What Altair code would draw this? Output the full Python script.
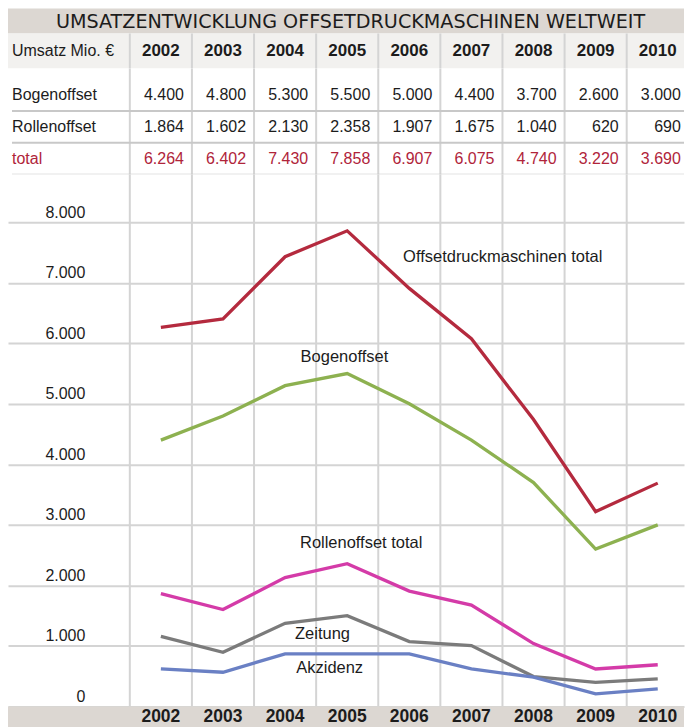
import altair as alt
import pandas as pd

# ---------------- data ----------------
TITLE = "UMSATZENTWICKLUNG OFFSETDRUCKMASCHINEN WELTWEIT"
HEADER_LABEL = "Umsatz Mio. €"
years = [2002, 2003, 2004, 2005, 2006, 2007, 2008, 2009, 2010]
row_names = ["Bogenoffset", "Rollenoffset", "total"]
bogenoffset = [4400, 4800, 5300, 5500, 5000, 4400, 3700, 2600, 3000]
rollenoffset = [1864, 1602, 2130, 2358, 1907, 1675, 1040, 620, 690]
total = [6264, 6402, 7430, 7858, 6907, 6075, 4740, 3220, 3690]
zeitung = [1160, 896, 1375, 1500, 1073, 1007, 495, 400, 457]
akzidenz = [622, 566, 870, 870, 870, 622, 484, 209, 292]
y_ticks = [0, 1000, 2000, 3000, 4000, 5000, 6000, 7000, 8000]

series_names = ["Offsetdruckmaschinen total", "Bogenoffset", "Rollenoffset total", "Zeitung", "Akzidenz"]
series_values = [total, bogenoffset, rollenoffset, zeitung, akzidenz]
series_colors = ["#b42a3e", "#8db150", "#d43ba8", "#7b7b7b", "#6a80c4"]

# annotation anchors (column index, value)
label_x = [3.9, 2.25, 2.24, 2.16, 2.18]
label_y = [7420, 5775, 2705, 1200, 640]

# ---------------- styling ----------------
W = 677
COLW = 62.2
X0 = 153.1          # pixel centre of the first year column
FONT = "Liberation Sans"
DARK = "#1c1c1c"
RED = "#b0243a"
GRID = "#d4d4d4"
SEP = "#c8c8c8"
BAND = "#dcd7d2"
HEAD = "#f2f1ef"
XS = alt.Scale(domain=[-X0 / COLW, (W - X0) / COLW], nice=False, zero=False)
PLOT_H = 533
BAND_H = 24

def de(v):
    return f"{v:,}".replace(",", ".")

cols = pd.DataFrame({"i": list(range(len(years))), "year": [str(y) for y in years]})
seps = pd.DataFrame({"s": [k - 0.5 for k in range(len(years))]})


def vrules(h):
    return alt.Chart(seps).mark_rule(color=GRID, strokeWidth=2).encode(
        x=alt.X("s:Q", scale=XS, axis=None), y=alt.value(0), y2=alt.value(h)
    )


# ---------------- title ----------------
title = alt.Chart(pd.DataFrame({"t": [TITLE]})).mark_text(
    font="DejaVu Sans", fontSize=19.2, color=DARK, baseline="middle"
).encode(x=alt.value(343), y=alt.value(13), text="t:N").properties(
    width=W, height=25, view=alt.ViewBackground(fill=BAND, stroke=None)
)

# ---------------- header row ----------------
hdr_label = alt.Chart(pd.DataFrame({"t": [HEADER_LABEL]})).mark_text(
    align="left", baseline="middle", font=FONT, fontSize=16, color=DARK
).encode(x=alt.value(4), y=alt.value(18), text="t:N")
hdr_years = alt.Chart(cols).mark_text(
    baseline="middle", font=FONT, fontSize=17, fontWeight="bold", color=DARK
).encode(x=alt.X("i:Q", scale=XS, axis=None), y=alt.value(18), text="year:N")
header = alt.layer(vrules(35), hdr_label, hdr_years).properties(
    width=W, height=35, view=alt.ViewBackground(fill=HEAD, stroke=None)
)

# ---------------- table body ----------------
rows_vals = [bogenoffset, rollenoffset, total]
recs = []
for r, vals in enumerate(rows_vals):
    for i, v in enumerate(vals):
        recs.append({"r": r, "i": i, "txt": de(v)})
cells = pd.DataFrame(recs)
rowlab = pd.DataFrame({"r": list(range(3)), "name": row_names})
hlines = pd.DataFrame({"p": [r + 0.5 for r in range(3)]})
YS_T = alt.Scale(domain=[-0.828, 2.484], reverse=True, nice=False, zero=False)
is_total = alt.datum.r == 2

body_lab = alt.Chart(rowlab).mark_text(
    align="left", baseline="middle", font=FONT, fontSize=16
).encode(
    x=alt.value(4),
    y=alt.Y("r:Q", scale=YS_T, axis=None),
    text="name:N",
    color=alt.condition(is_total, alt.value(RED), alt.value(DARK)),
)
body_vals = alt.Chart(cells).mark_text(
    align="right", baseline="middle", font=FONT, fontSize=16, dx=COLW / 2 - 8
).encode(
    x=alt.X("i:Q", scale=XS, axis=None),
    y=alt.Y("r:Q", scale=YS_T, axis=None),
    text="txt:N",
    color=alt.condition(is_total, alt.value(RED), alt.value(DARK)),
)
body_lines = alt.Chart(hlines).mark_rule(color=SEP, strokeWidth=2).encode(
    y=alt.Y("p:Q", scale=YS_T, axis=None), x=alt.value(4), x2=alt.value(W)
)
body = alt.layer(vrules(106), body_lines, body_lab, body_vals).properties(
    width=W, height=106, view=alt.ViewBackground(fill="white", stroke=None)
)

# ---------------- line chart ----------------
lrec = []
for name, vals in zip(series_names, series_values):
    for i, v in enumerate(vals):
        lrec.append({"series": name, "i": i, "v": v})
ldf = pd.DataFrame(lrec)
# 8000 sits 48px below the top of the plot panel
YS = alt.Scale(domain=[0, 8000 * PLOT_H / (PLOT_H - 48)], nice=False, zero=True)

lines = alt.Chart(ldf).mark_line(strokeWidth=3.3, strokeJoin="miter").encode(
    x=alt.X("i:Q", scale=XS, axis=None),
    y=alt.Y(
        "v:Q",
        scale=YS,
        axis=alt.Axis(
            values=y_ticks,
            title=None,
            grid=True,
            gridColor=GRID,
            gridWidth=2,
            domain=False,
            ticks=False,
            tickSize=0,
            labelPadding=-77,
            labelAlign="right",
            labelBaseline="alphabetic",
            labelOffset=-5,
            labelFont=FONT,
            labelFontSize=16,
            labelColor=DARK,
            labelExpr="replace(format(datum.value, ',d'), ',', '.')",
        ),
    ),
    color=alt.Color("series:N", scale=alt.Scale(domain=series_names, range=series_colors), legend=None),
    order="i:Q",
)
ann = pd.DataFrame({"t": series_names, "x": label_x, "y": label_y})
labels = alt.Chart(ann).mark_text(
    align="left", baseline="middle", font=FONT, fontSize=16.5, color=DARK
).encode(x=alt.X("x:Q", scale=XS, axis=None), y=alt.Y("y:Q", scale=YS), text="t:N")

plot = alt.layer(vrules(PLOT_H), lines, labels).properties(
    width=W, height=PLOT_H, view=alt.ViewBackground(fill="white", stroke=None)
)

# ---------------- bottom band ----------------
band = alt.Chart(cols).mark_text(
    baseline="middle", font=FONT, fontSize=17.5, fontWeight="bold", color=DARK
).encode(x=alt.X("i:Q", scale=XS, axis=None), y=alt.value(11), text="year:N").properties(
    width=W, height=BAND_H, view=alt.ViewBackground(fill=BAND, stroke=None)
)

chart = (
    alt.vconcat(title, header, body, plot, band, spacing=0, bounds="flush")
    .resolve_scale(x="independent", y="independent", color="independent")
    .properties(padding=0)
    .configure_view(stroke=None)
)

chart.save("out.html", embed_options={"renderer": "svg", "actions": False})
